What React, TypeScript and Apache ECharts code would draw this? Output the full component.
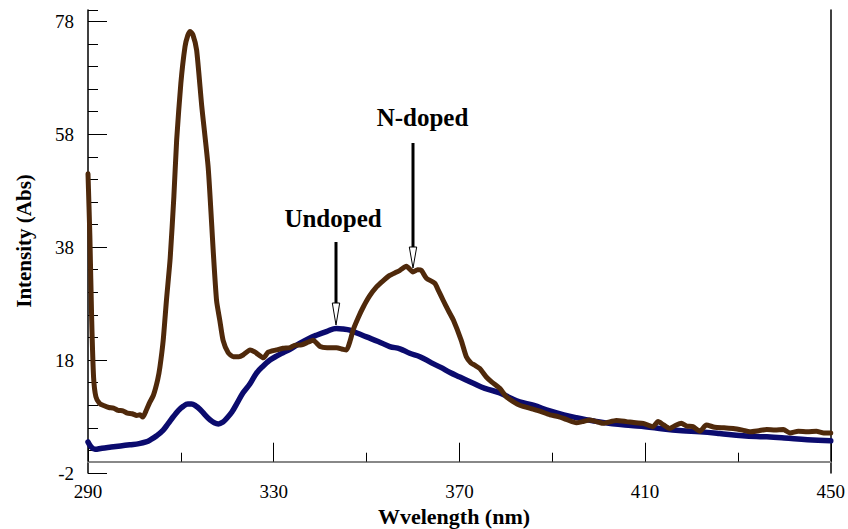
import React, { useEffect, useRef } from "react";
import * as echarts from "echarts";

// N-doped spectrum (brown)
const nDopedX = [
  290, 290.4, 290.8, 291.2, 291.7, 292.5, 293.5, 294.5, 295.5, 296.5, 297.5, 298.5, 299.5, 300.5, 301.2, 301.8,
  302.6, 303.3, 304.1, 305, 305.5, 306.2, 306.9, 307.7, 308.5, 309.1, 310, 310.9, 311.5, 312, 312.6, 313.4,
  314.5, 315.9, 317, 317.7, 318.4, 319.1, 320.2, 321.3, 322.5, 323.4, 324.9, 326, 327.8, 328.8, 330.6, 332,
  333.5, 334.5, 336, 337.5, 338.5, 340, 341.5, 343.5, 345, 345.7, 346.5, 347.1, 348.2, 349.3, 350.7, 352.2,
  353.5, 355, 356.5, 357.2, 358.6, 360, 361, 361.8, 362.9, 364.7, 365.5, 366.5, 367.6, 368.7, 370.4, 371.5,
  372.5, 373.3, 374.4, 375.8, 377, 378.7, 380.1, 381.5, 383, 385.9, 387.5, 389.5, 391.3, 393, 395.2, 396.5,
  398.1, 400, 401, 403.8, 406, 408, 409.6, 411.7, 412.8, 414, 415.3, 416.5, 417.8, 419, 420.3, 421.8,
  423.2, 425, 427, 429, 431, 432.6, 434.5, 436.2, 438, 439.8, 441.2, 443, 445, 446.9, 448.5, 450,
];
const nDopedY = [
  51, 40, 25, 15, 11.5, 10.3, 9.9, 9.6, 9.5, 9.1, 9.0, 8.6, 8.5, 8.2, 8.3, 7.9,
  9.2, 10.5, 11.8, 14.5, 16.8, 21.5, 28.6, 36, 47, 57, 67, 73.5, 75.5, 76.2, 75.6, 72.9,
  63, 52, 37, 28.5, 25, 21.5, 19.3, 18.6, 18.6, 18.9, 19.8, 19.4, 18.4, 19.4, 19.8, 20.1,
  20.2, 20.6, 20.7, 21.2, 21.5, 20.4, 20.2, 20.2, 19.9, 19.8, 21.5, 23.3, 25.5, 27.4, 29.4, 31,
  32, 33, 33.6, 33.9, 34.6, 33.6, 34, 33.9, 32.5, 31.6, 30.3, 28.6, 26.8, 25.1, 21.5, 18.6,
  17.5, 17.1, 16.5, 15, 14.1, 13, 11.5, 10.7, 10, 9.3, 8.9, 8.3, 8, 7.5, 6.9, 7.1,
  7.4, 7.0, 6.8, 7.3, 7.1, 6.9, 6.8, 6.2, 7.1, 6.5, 5.9, 6.4, 6.8, 6.3, 6.2, 5.4,
  6.5, 6.1, 6.0, 5.9, 5.6, 5.3, 5.5, 5.7, 5.6, 5.7, 5.1, 5.4, 5.3, 5.4, 5.1, 5.1,
];

// Undoped spectrum (navy)
const undopedX = [
  290, 290.7, 291.5, 293, 295, 297, 299, 301, 302.5, 303.5, 304.8, 306.2, 307.3, 308.4, 309.5, 310.5,
  311.5, 312.3, 313.2, 314.1, 315.2, 316.3, 317.2, 318.1, 319, 319.9, 321, 322, 323.4, 324.9, 326.3, 327.8,
  329.2, 330.6, 332, 333.5, 335.7, 337.5, 339.2, 341.5, 343.5, 345, 346.4, 348.2, 350, 352.5, 355, 357.2,
  359.3, 361.5, 364, 366, 368, 370.1, 373, 375.5, 378.7, 381, 383, 385.9, 389.5, 392.5, 395.2, 399,
  403, 407, 410, 414, 418, 421.8, 426, 431, 436.2, 440, 445, 450,
];
const undopedY = [
  3.5, 2.6, 2.2, 2.4, 2.6, 2.8, 3.0, 3.2, 3.5, 3.9, 4.6, 5.6, 6.8, 8.0, 9.1, 9.8,
  10.2, 10.2, 9.9, 9.3, 8.3, 7.4, 6.9, 6.7, 7.0, 7.7, 8.8, 10.2, 12.2, 13.8, 15.7, 17,
  18, 18.7, 19.3, 19.9, 21, 21.8, 22.4, 23.1, 23.6, 23.5, 23.3, 22.7, 22.1, 21.3, 20.4, 20.0,
  19.2, 18.6, 17.5, 16.7, 15.8, 15, 13.9, 13, 12.2, 11.3, 10.6, 10, 9.0, 8.3, 7.8, 7.2,
  6.7, 6.4, 6.2, 5.8, 5.5, 5.3, 5.0, 4.6, 4.4, 4.2, 3.9, 3.7,
];

const xMin = 290;
const xMax = 450;
const xInterval = 40;
const yMin = -2;
const yMax = 80;
const yInterval = 20;
const yMinorInterval = 4;

const SERIF = "'Liberation Serif', 'Times New Roman', 'DejaVu Serif', serif";

export default function App() {
  const ref = useRef<HTMLDivElement>(null);

  useEffect(() => {
    if (!ref.current) return;
    const chart = echarts.init(ref.current, undefined, { renderer: "svg" });
    const pairs = (xs: number[], ys: number[]) => xs.map((x, i) => [x, ys[i]]);

    chart.setOption({
      animation: false,
      backgroundColor: "#ffffff",
      textStyle: { fontFamily: SERIF },
      grid: { left: 88, right: 17, top: 10, bottom: 56, containLabel: false },
      xAxis: [
        {
          type: "value",
          min: xMin,
          max: xMax,
          interval: xInterval,
          position: "bottom",
          axisLine: { show: true, lineStyle: { color: "#000", width: 1.5 } },
          axisTick: { show: true, inside: true, length: 19, lineStyle: { color: "#000", width: 1 } },
          minorTick: { show: true, splitNumber: 2, length: 9, lineStyle: { color: "#000", width: 1 } },
          splitLine: { show: false },
          axisLabel: { color: "#000", fontFamily: SERIF, fontSize: 19, margin: 9 },
        },
        {
          type: "value",
          min: xMin,
          max: xMax,
          position: "top",
          axisLine: { show: true, lineStyle: { color: "#888", width: 2 } },
          axisTick: { show: false },
          axisLabel: { show: false },
          splitLine: { show: false },
        },
      ],
      yAxis: [
        {
          type: "value",
          min: yMin,
          max: yMax,
          interval: yInterval,
          position: "left",
          axisLine: { show: true, lineStyle: { color: "#000", width: 1.5 } },
          axisTick: { show: true, inside: true, length: 19, lineStyle: { color: "#000", width: 1 } },
          splitLine: { show: false },
          axisLabel: { color: "#000", fontFamily: SERIF, fontSize: 19, margin: 14, showMaxLabel: false },
        },
        {
          type: "value",
          min: yMin,
          max: yMax,
          interval: yMinorInterval,
          position: "left",
          axisLine: { show: false },
          axisTick: { show: true, inside: true, length: 10, lineStyle: { color: "#000", width: 1 } },
          splitLine: { show: false },
          axisLabel: { show: false },
        },
        {
          type: "value",
          min: yMin,
          max: yMax,
          position: "right",
          axisLine: { show: true, lineStyle: { color: "#000", width: 1.5 } },
          axisTick: { show: false },
          axisLabel: { show: false },
          splitLine: { show: false },
        },
      ],
      series: [
        {
          name: "Undoped",
          type: "line",
          xAxisIndex: 0,
          yAxisIndex: 0,
          data: pairs(undopedX, undopedY),
          showSymbol: false,
          smooth: 0.4,
          lineStyle: { color: "#0b0b6e", width: 5.5, cap: "round", join: "round" },
          z: 3,
        },
        {
          name: "N-doped",
          type: "line",
          xAxisIndex: 0,
          yAxisIndex: 0,
          data: pairs(nDopedX, nDopedY),
          showSymbol: false,
          smooth: 0.2,
          lineStyle: { color: "#4f290b", width: 5, cap: "round", join: "round" },
          z: 4,
        },
      ],
      graphic: [
        {
          type: "text",
          x: 454,
          y: 516,
          style: {
            text: "Wvelength (nm)",
            fontFamily: SERIF,
            fontWeight: "bold",
            fontSize: 22,
            fill: "#000",
            align: "center",
            verticalAlign: "middle",
          },
        },
        {
          type: "text",
          x: 24,
          y: 241,
          rotation: Math.PI / 2,
          style: {
            text: "Intensity (Abs)",
            fontFamily: SERIF,
            fontWeight: "bold",
            fontSize: 21,
            fill: "#000",
            align: "center",
            verticalAlign: "middle",
          },
        },
        {
          type: "text",
          x: 333,
          y: 218.5,
          style: {
            text: "Undoped",
            fontFamily: SERIF,
            fontWeight: "bold",
            fontSize: 25,
            fill: "#000",
            align: "center",
            verticalAlign: "middle",
          },
        },
        {
          type: "text",
          x: 422.5,
          y: 117.5,
          style: {
            text: "N-doped",
            fontFamily: SERIF,
            fontWeight: "bold",
            fontSize: 25,
            fill: "#000",
            align: "center",
            verticalAlign: "middle",
          },
        },
        {
          type: "line",
          shape: { x1: 336, y1: 242, x2: 336, y2: 304 },
          style: { stroke: "#000", lineWidth: 3 },
          z: 10,
        },
        {
          type: "polygon",
          shape: { points: [[332.3, 303], [339.7, 303], [336, 325]] },
          style: { fill: "#fff", stroke: "#000", lineWidth: 1 },
          z: 10,
        },
        {
          type: "line",
          shape: { x1: 413, y1: 143, x2: 413, y2: 248 },
          style: { stroke: "#000", lineWidth: 3 },
          z: 10,
        },
        {
          type: "polygon",
          shape: { points: [[409.3, 247], [416.7, 247], [413, 268]] },
          style: { fill: "#fff", stroke: "#000", lineWidth: 1 },
          z: 10,
        },
      ],
    });

    return () => chart.dispose();
  }, []);

  return (
    <div
      ref={ref}
      style={{ position: "fixed", left: 0, top: 0, width: 848, height: 529, background: "#fff" }}
    />
  );
}
